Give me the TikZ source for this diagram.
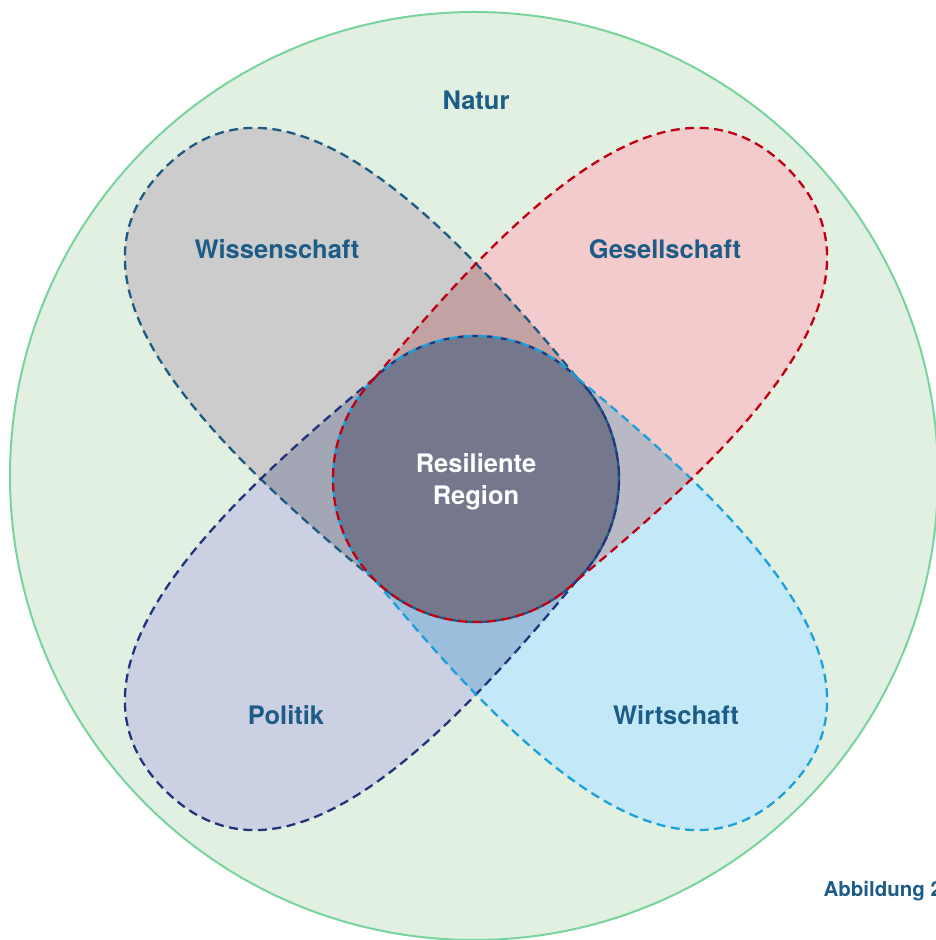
\documentclass[tikz,border=0pt]{standalone}
\usepackage{fontspec}
\setmainfont{TeX Gyre Heros}
\usepackage{tikz}
\usetikzlibrary{positioning}

\definecolor{naturfill}{HTML}{E1F0E1}
\definecolor{naturline}{HTML}{78D39D}
\definecolor{textblue}{HTML}{1C5C87}
\definecolor{wissfill}{HTML}{CCCCCC}
\definecolor{wissline}{HTML}{1D5B82}
\definecolor{gesfill}{HTML}{F3CBCC}
\definecolor{gesline}{HTML}{C00012}
\definecolor{polfill}{HTML}{CBD0E3}
\definecolor{polline}{HTML}{22347A}
\definecolor{wirtfill}{HTML}{C3E9F8}
\definecolor{wirtline}{HTML}{1BA0DA}

% one petal, pointing along the x axis, round tip around the origin
\newcommand{\petal}{(0,143) arc[start angle=90,end angle=270,radius=143]
  .. controls (230,-165) and (440,-160) .. (440,0)
  .. controls (440,160) and (230,165) .. (0,143) -- cycle}

\begin{document}
\begin{tikzpicture}
    [x=1pt,y=1pt,
     bereich/.style={font=\bfseries\fontsize{25.5}{32}\selectfont,text=textblue},
     rand/.style={line width=2.3pt,dash pattern=on 9pt off 5.5pt}]

    \useasboundingbox (0,0) rectangle (936,940);

    \fill[naturfill,draw=naturline,line width=2pt] (474,464) circle[radius=464];

    \foreach \ang in {135,45,225,-45}
      \fill[white,shift={(476,461)},rotate=\ang] \petal;

    \foreach \ang/\col in {135/wissfill,45/gesfill,225/polfill,-45/wirtfill}
      \fill[\col,blend mode=multiply,shift={(476,461)},rotate=\ang] \petal;

    \foreach \ang/\col in {135/wissline,225/polline,-45/wirtline,45/gesline}
      \draw[rand,\col,shift={(476,461)},rotate=\ang] \petal;

    \node[bereich] (natur) at (476,840) {Natur};
    \node[bereich] (wiss) at (277,691) {Wissenschaft};
    \node[bereich] (ges) at (665,691) {Gesellschaft};
    \node[bereich] (pol) at (286,225) {Politik};
    \node[bereich] (wirt) at (676,225) {Wirtschaft};
    \node[bereich,text=white,align=center] (region) at (476,458) {Resiliente\\Region};
    \node[font=\bfseries\fontsize{20.5}{24}\selectfont,text=textblue,anchor=west] (abb) at (820,49) {Abbildung 2};

  \end{tikzpicture}
\end{document}
